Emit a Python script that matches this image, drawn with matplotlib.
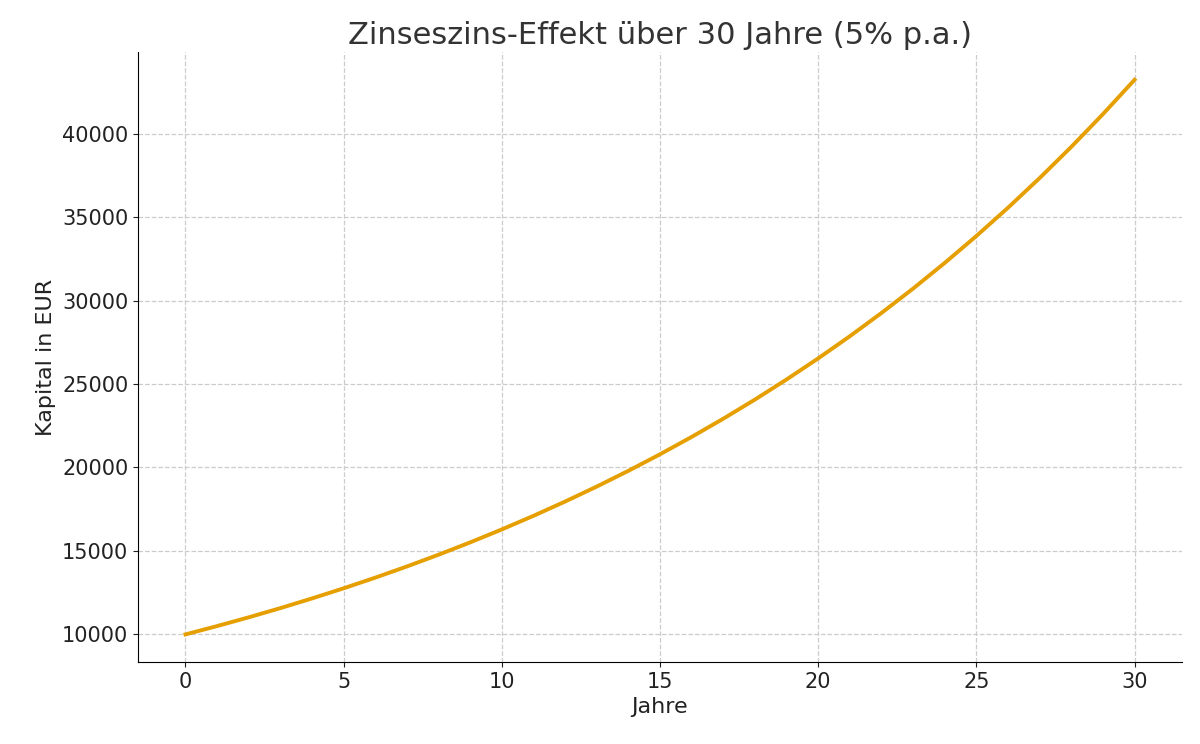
import matplotlib
matplotlib.use("Agg")
import matplotlib.pyplot as plt

years = list(range(0, 31))
capital = [10000, 10500, 11025, 11576, 12155, 12763, 13401, 14071, 14775, 15513,
           16289, 17103, 17959, 18856, 19799, 20789, 21829, 22920, 24066, 25270,
           26533, 27860, 29253, 30715, 32251, 33864, 35557, 37335, 39201, 41161, 43219]

fig, ax = plt.subplots(figsize=(12, 7.44), dpi=100)
ax.plot(years, capital, color="#E69F00", linewidth=2.8)
ax.set_title("Zinseszins-Effekt über 30 Jahre (5% p.a.)", fontsize=22, color="#333333")
ax.set_xlabel("Jahre", fontsize=16, color="#222222")
ax.set_ylabel("Kapital in EUR", fontsize=16, color="#222222")
ax.tick_params(labelsize=15, colors="#222222")
ax.grid(True, linestyle="--", color="#cccccc", linewidth=0.9)
ax.spines["top"].set_visible(False)
ax.spines["right"].set_visible(False)
ax.set_xticks([0, 5, 10, 15, 20, 25, 30])
ax.set_yticks(range(10000, 45000, 5000))
fig.subplots_adjust(left=0.115, right=0.985, top=0.93, bottom=0.11)
fig.savefig("out.png")
